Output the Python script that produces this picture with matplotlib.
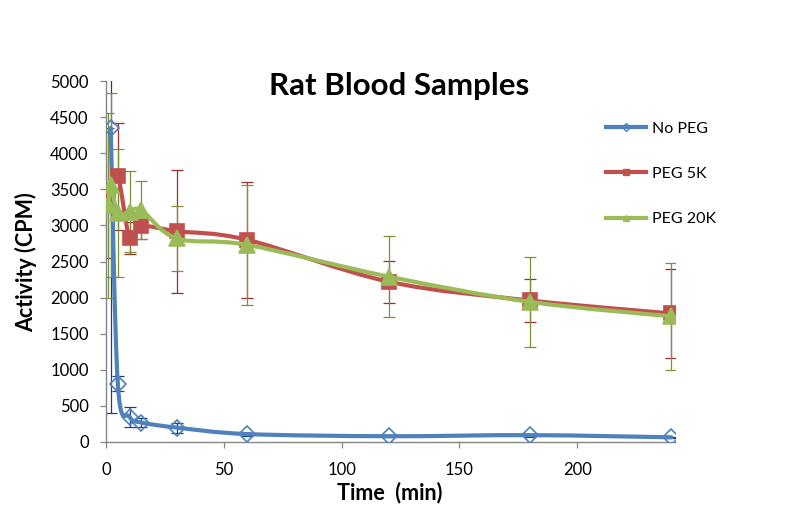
import matplotlib
matplotlib.use("Agg")
import matplotlib.pyplot as plt
import numpy as np
from matplotlib.path import Path
from matplotlib.patches import PathPatch
from matplotlib.lines import Line2D

# ----------------------------- data ------------------------------------------
no_peg_t = [2, 5, 10, 15, 30, 60, 120, 180, 240]
no_peg = [4350, 810, 350, 270, 200, 110, 80, 95, 65]
no_peg_err = [3950, 110, 140, 60, 70, 20, 15, 20, 10]

peg5k_t = [1, 5, 10, 15, 30, 60, 120, 180, 240]
peg5k = [3450, 3680, 2830, 2990, 2920, 2800, 2220, 1960, 1780]
peg5k_err = [900, 740, 220, 180, 850, 800, 290, 300, 610]

peg20k_t = [1, 2, 5, 10, 15, 30, 60, 120, 180, 240]
peg20k = [3280, 3560, 3170, 3190, 3210, 2820, 2730, 2290, 1940, 1740]
peg20k_err = [1280, 1280, 890, 560, 400, 450, 830, 560, 620, 740]

series_names = ["No PEG", "PEG 5K", "PEG 20K"]
x_ticks = [0, 50, 100, 150, 200]
y_ticks = list(range(0, 5001, 500))

FONT = "Lato"
AXIS_GRAY = "#868686"


def smooth_path(x, y):
    """Excel-style smoothed line: cubic Bezier through every point."""
    x = np.asarray(x, dtype=float)
    y = np.asarray(y, dtype=float)
    n = len(x)
    verts = [(x[0], y[0])]
    codes = [Path.MOVETO]
    for i in range(n - 1):
        xm, ym = (x[i - 1], y[i - 1]) if i > 0 else (x[i], y[i])
        xp, yp = (x[i + 2], y[i + 2]) if i + 2 < n else (x[i + 1], y[i + 1])
        c1 = (x[i] + (x[i + 1] - xm) / 6, y[i] + (y[i + 1] - ym) / 6)
        c2 = (x[i + 1] - (xp - x[i]) / 6, y[i + 1] - (yp - y[i]) / 6)
        verts += [c1, c2, (x[i + 1], y[i + 1])]
        codes += [Path.CURVE4] * 3
    return Path(verts, codes)


fig = plt.figure(figsize=(8.0, 5.15), dpi=100)
ax = fig.add_axes([106 / 800, 1 - 442 / 515, 569 / 800, 361 / 515])

styles = [
    (no_peg_t, no_peg, no_peg_err, "#4F81BD", "#1F3F78", "D", 8, "none"),
    (peg5k_t, peg5k, peg5k_err, "#C0504D", "#9A2F2C", "s", 10, "#C0504D"),
    (peg20k_t, peg20k, peg20k_err, "#9BBB59", "#7F9135", "^", 11, "#9BBB59"),
]

for k, (t, v, e, col, ecol, mk, ms, mfc) in enumerate(styles):
    ax.errorbar(t, v, yerr=e, fmt="none", ecolor=ecol, elinewidth=0.9,
                capsize=4, capthick=0.9, zorder=2 + k * 0.1)
    ax.add_patch(PathPatch(smooth_path(t, v), facecolor="none", edgecolor=col,
                           linewidth=3.0, capstyle="round", joinstyle="round",
                           zorder=3 + k))
    ax.plot(t, v, linestyle="none", marker=mk, markersize=ms,
            markerfacecolor=mfc, markeredgecolor=col, markeredgewidth=1.2,
            zorder=3.5 + k)

ax.set_xlim(0, 241.5)
ax.set_ylim(0, 5000)
ax.set_xticks(x_ticks)
ax.set_yticks(y_ticks)

for side in ("top", "right"):
    ax.spines[side].set_visible(False)
for side in ("left", "bottom"):
    ax.spines[side].set_color(AXIS_GRAY)
    ax.spines[side].set_linewidth(1.0)

ax.tick_params(axis="both", direction="out", length=4.5, width=0.9,
               color=AXIS_GRAY, labelsize=12, labelcolor="black")
ax.tick_params(axis="y", pad=8)
ax.tick_params(axis="x", pad=10)
for lab in ax.get_xticklabels() + ax.get_yticklabels():
    lab.set_fontfamily(FONT)

fig.text(399 / 800, 1 - 86 / 515, "Rat Blood Samples", ha="center",
         va="center", fontsize=22.5, fontweight="bold", family=FONT)
fig.text(390 / 800, 1 - 493 / 515, "Time  (min)", ha="center", va="center",
         fontsize=15.5, fontweight="bold", family=FONT)
fig.text(26 / 800, 1 - 262 / 515, "Activity (CPM)", ha="center",
         va="center", rotation=90, fontsize=15.5, fontweight="bold",
         family=FONT)

handles = [
    Line2D([], [], color="#4F81BD", lw=3.0, marker="D", markersize=4,
           markerfacecolor="none", markeredgecolor="#4F81BD"),
    Line2D([], [], color="#C0504D", lw=3.0, marker="s", markersize=5,
           markerfacecolor="#C0504D", markeredgecolor="#C0504D"),
    Line2D([], [], color="#9BBB59", lw=3.0, marker="^", markersize=5,
           markerfacecolor="#9BBB59", markeredgecolor="#9BBB59"),
]
leg = fig.legend(handles, series_names, loc="upper left",
                 bbox_to_anchor=(606 / 800, 1 - 121.5 / 515), frameon=False,
                 prop={"family": FONT, "size": 11.5}, handlelength=2.5,
                 handletextpad=0.35, labelspacing=1.95, borderpad=0,
                 borderaxespad=0)

fig.savefig("out.png", dpi=100)
